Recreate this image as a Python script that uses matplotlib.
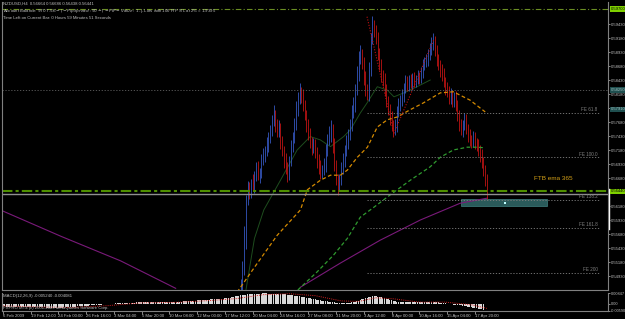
import matplotlib
matplotlib.use("Agg")
import matplotlib.pyplot as plt

W, H = 625, 319

# ---------------- data ----------------
symbol_header = "NZDUSD,H4  0.56664 0.56686 0.56438 0.56441"
account_line = "Account Balance: $9707.56 -|- Pip Spread: 90 -|- PIP-Value: $1 -|- Lots with 100 PIP S/L at 2% = 1.9395"
time_line = "Time Left on Current Bar: 0 Hours 59 Minutes 51 Seconds"

first_bar_index = 137
first_open = 0.5450
closes = [0.5477, 0.5504, 0.5557, 0.5629, 0.5651, 0.5643, 0.5661, 0.5654, 0.5672, 0.5686,
          0.5673, 0.5679, 0.5700, 0.5709, 0.5718, 0.5727, 0.5740, 0.5754, 0.5768, 0.5781,
          0.5763, 0.5751, 0.5757, 0.5732, 0.5718, 0.5700, 0.5686, 0.5673, 0.5700, 0.5722,
          0.5740, 0.5763, 0.5790, 0.5811, 0.5822, 0.5815, 0.5798, 0.5781, 0.5763, 0.5745,
          0.5732, 0.5722, 0.5727, 0.5715, 0.5700, 0.5686, 0.5679, 0.5682, 0.5691, 0.5718,
          0.5736, 0.5745, 0.5754, 0.5727, 0.5691, 0.5668, 0.5656, 0.5665, 0.5686, 0.5700,
          0.5718, 0.5732, 0.5745, 0.5763, 0.5786, 0.5798, 0.5825, 0.5852, 0.5882, 0.5888,
          0.5875, 0.5847, 0.5825, 0.5816, 0.5861, 0.5915, 0.5941, 0.5932, 0.5918, 0.5888,
          0.5870, 0.5852, 0.5843, 0.5825, 0.5807, 0.5790, 0.5775, 0.5763, 0.5754, 0.5763,
          0.5786, 0.5798, 0.5807, 0.5816, 0.5829, 0.5840, 0.5834, 0.5843, 0.5836, 0.5847,
          0.5840, 0.5843, 0.5850, 0.5847, 0.5857, 0.5868, 0.5875, 0.5879, 0.5888, 0.5897,
          0.5906, 0.5911, 0.5897, 0.5879, 0.5870, 0.5861, 0.5852, 0.5840, 0.5829, 0.5822,
          0.5811, 0.5816, 0.5807, 0.5811, 0.5798, 0.5781, 0.5763, 0.5754, 0.5763, 0.5772,
          0.5757, 0.5745, 0.5736, 0.5732, 0.5740, 0.5732, 0.5727, 0.5718, 0.5709, 0.5698,
          0.5682, 0.5668, 0.5643]
wick_up = [0.0010, 0.0015, 0.0025, 0.0008, 0.0012, 0.0010, 0.0006, 0.0014, 0.0009, 0.0011,
           0.0013, 0.0007, 0.0010, 0.0012, 0.0008, 0.0015, 0.0010, 0.0009, 0.0012, 0.0018,
           0.0008, 0.0010, 0.0014, 0.0009, 0.0011, 0.0007, 0.0012, 0.0010, 0.0008, 0.0013,
           0.0010, 0.0012, 0.0015, 0.0011, 0.0016, 0.0009, 0.0012, 0.0010, 0.0008, 0.0011,
           0.0013, 0.0009, 0.0012, 0.0010, 0.0008, 0.0011, 0.0014, 0.0009, 0.0012, 0.0010,
           0.0011, 0.0015, 0.0018, 0.0010, 0.0012, 0.0009, 0.0008, 0.0011, 0.0010, 0.0012,
           0.0009, 0.0013, 0.0010, 0.0011, 0.0012, 0.0014, 0.0010, 0.0016, 0.0012, 0.0018,
           0.0011, 0.0009, 0.0012, 0.0010, 0.0014, 0.0012, 0.0016, 0.0010, 0.0009, 0.0011,
           0.0012, 0.0010, 0.0009, 0.0013, 0.0011, 0.0008, 0.0010, 0.0012, 0.0009, 0.0011,
           0.0010, 0.0012, 0.0009, 0.0011, 0.0008, 0.0012, 0.0010, 0.0009, 0.0011, 0.0008,
           0.0010, 0.0009, 0.0011, 0.0008, 0.0010, 0.0012, 0.0009, 0.0011, 0.0010, 0.0012,
           0.0014, 0.0016, 0.0010, 0.0009, 0.0011, 0.0008, 0.0010, 0.0012, 0.0009, 0.0011,
           0.0010, 0.0012, 0.0009, 0.0011, 0.0013, 0.0010, 0.0008, 0.0011, 0.0009, 0.0012,
           0.0010, 0.0008, 0.0011, 0.0009, 0.0012, 0.0010, 0.0008, 0.0011, 0.0009, 0.0010,
           0.0008, 0.0009, 0.0007]
wick_dn = [0.0020, 0.0012, 0.0010, 0.0015, 0.0009, 0.0013, 0.0011, 0.0008, 0.0012, 0.0010,
           0.0009, 0.0014, 0.0011, 0.0008, 0.0012, 0.0010, 0.0013, 0.0009, 0.0011, 0.0008,
           0.0012, 0.0010, 0.0009, 0.0013, 0.0011, 0.0014, 0.0010, 0.0012, 0.0009, 0.0011,
           0.0008, 0.0010, 0.0009, 0.0012, 0.0010, 0.0013, 0.0011, 0.0009, 0.0012, 0.0010,
           0.0011, 0.0013, 0.0009, 0.0012, 0.0014, 0.0010, 0.0012, 0.0011, 0.0009, 0.0013,
           0.0010, 0.0009, 0.0012, 0.0014, 0.0011, 0.0013, 0.0018, 0.0010, 0.0009, 0.0011,
           0.0012, 0.0010, 0.0013, 0.0009, 0.0011, 0.0010, 0.0012, 0.0009, 0.0011, 0.0010,
           0.0012, 0.0013, 0.0010, 0.0009, 0.0011, 0.0010, 0.0008, 0.0012, 0.0011, 0.0010,
           0.0009, 0.0012, 0.0010, 0.0011, 0.0013, 0.0010, 0.0012, 0.0011, 0.0013, 0.0010,
           0.0012, 0.0009, 0.0011, 0.0010, 0.0012, 0.0009, 0.0011, 0.0010, 0.0008, 0.0011,
           0.0009, 0.0010, 0.0008, 0.0011, 0.0009, 0.0010, 0.0008, 0.0009, 0.0011, 0.0010,
           0.0009, 0.0010, 0.0012, 0.0011, 0.0010, 0.0012, 0.0011, 0.0010, 0.0012, 0.0009,
           0.0011, 0.0010, 0.0012, 0.0013, 0.0010, 0.0012, 0.0011, 0.0009, 0.0012, 0.0010,
           0.0011, 0.0012, 0.0010, 0.0011, 0.0009, 0.0012, 0.0010, 0.0011, 0.0013, 0.0012,
           0.0010, 0.0014, 0.0012]

# moving averages (bar index, price)
ema_orange_idx = [135.0, 146.7, 158.2, 171.5, 175.5, 183.0, 188.8, 194.5, 198.5, 204.3, 210.1, 215.8, 221.6, 227.3, 234.8, 242.3, 252.1, 259.6, 269.3, 278.0]
ema_orange_val = [0.5464, 0.5516, 0.5566, 0.5611, 0.5647, 0.5664, 0.5673, 0.5673, 0.5682, 0.5705, 0.5723, 0.5759, 0.5772, 0.5777, 0.5790, 0.5802, 0.5820, 0.5822, 0.5807, 0.5786]
ema_green_idx = [170.0, 181.0, 190.5, 198.5, 206.0, 213.5, 223.3, 234.8, 246.3, 252.1, 259.6, 267.6, 273.4, 277.4]
ema_green_val = [0.5468, 0.5500, 0.5530, 0.5560, 0.5598, 0.5615, 0.5638, 0.5664, 0.5688, 0.5705, 0.5718, 0.5723, 0.5723, 0.5722]
ema_purple_left_idx = [0.0, 33.4, 67.9, 99.6]
ema_purple_left_val = [0.5609, 0.5564, 0.5520, 0.5471]
ema_purple_right_idx = [171.5, 194.5, 217.5, 240.6, 263.6, 279.1]
ema_purple_right_val = [0.5473, 0.5516, 0.5557, 0.5593, 0.5623, 0.5632]
ema_fast_idx = [140.0, 145.0, 150.4, 160.0, 169.6, 177.2, 183.0, 188.8, 196.4, 200.3, 206.0, 209.9, 215.8, 221.6, 225.4, 231.1, 238.7, 246.3]
ema_fast_val = [0.5466, 0.5560, 0.5611, 0.5664, 0.5718, 0.5742, 0.5736, 0.5724, 0.5742, 0.5754, 0.5784, 0.5802, 0.5831, 0.5825, 0.5813, 0.5820, 0.5831, 0.5843]
zigzag_idx = [209.9, 225.4, 248.4]
zigzag_val = [0.5956, 0.5748, 0.5915]

top_line_price = 0.5970
ftb_line_price = 0.5644
bid_line_price = 0.5640
level_line_price = 0.5825
fe_levels = [0.5784, 0.5705, 0.5629, 0.5579, 0.5499]
fe_names = ["FE 61.8", "FE 100.0", "FE 138.2", "FE 161.8", "FE 200"]
fe_start_idx = 210.1
teal_labels = [0.5825, 0.5791]
box_idx = (264.2, 313.6)
box_price = (0.5618, 0.5631)
box_point = (289.5, 0.5624)
ftb_text_idx = 306.0
ftb_text_price = 0.5668

price_ticks = [0.59430, 0.59180, 0.58930, 0.58680, 0.58430, 0.58180, 0.57930, 0.57680,
               0.57430, 0.57180, 0.56930, 0.56680, 0.56430, 0.56180, 0.55930, 0.55680,
               0.55430, 0.55180, 0.54930]

date_labels = ["6 Feb 2009", "19 Feb 12:00", "24 Feb 00:00", "26 Feb 16:00", "3 Mar 04:00",
               "5 Mar 20:00", "10 Mar 08:00", "12 Mar 00:00", "17 Mar 12:00", "20 Mar 04:00",
               "24 Mar 16:00", "27 Mar 08:00", "31 Mar 20:00", "3 Apr 12:00", "8 Apr 00:00",
               "10 Apr 16:00", "15 Apr 04:00", "17 Apr 20:00"]
date_label_step = 16

macd_hist = [
 -0.0022,-0.0024,-0.0026,-0.0027,-0.0028,-0.0029,-0.0030,-0.0030,-0.0031,-0.0031,
 -0.0030,-0.0030,-0.0029,-0.0029,-0.0028,-0.0028,-0.0027,-0.0027,-0.0028,-0.0028,
 -0.0029,-0.0030,-0.0030,-0.0031,-0.0032,-0.0033,-0.0033,-0.0034,-0.0034,-0.0035,
 -0.0035,-0.0035,-0.0034,-0.0034,-0.0033,-0.0032,-0.0031,-0.0030,-0.0029,-0.0028,
 -0.0027,-0.0026,-0.0025,-0.0024,-0.0023,-0.0022,-0.0020,-0.0019,-0.0018,-0.0017,
 -0.0016,-0.0015,-0.0014,-0.0013,-0.0012,-0.0011,-0.0010,-0.0008,-0.0006,-0.0005,
 -0.0004,-0.0003,-0.0002,-0.0001, 0.0000, 0.0001, 0.0002, 0.0003, 0.0004, 0.0005,
  0.0005, 0.0006, 0.0006, 0.0007, 0.0007, 0.0008, 0.0008, 0.0009, 0.0010, 0.0011,
  0.0011, 0.0012, 0.0012, 0.0013, 0.0013, 0.0013, 0.0012, 0.0012, 0.0011, 0.0010,
  0.0010, 0.0009, 0.0009, 0.0009, 0.0010, 0.0010, 0.0011, 0.0011, 0.0012, 0.0013,
  0.0014, 0.0015, 0.0016, 0.0017, 0.0018, 0.0019, 0.0020, 0.0021, 0.0022, 0.0023,
  0.0024, 0.0025, 0.0026, 0.0027, 0.0028, 0.0029, 0.0030, 0.0031, 0.0032, 0.0033,
  0.0034, 0.0035, 0.0036, 0.0037, 0.0038, 0.0039, 0.0040, 0.0042, 0.0044, 0.0046,
  0.0048, 0.0050, 0.0053, 0.0056, 0.0059, 0.0062, 0.0065, 0.0068, 0.0070, 0.0072,
  0.0074, 0.0076, 0.0077, 0.0078, 0.0079, 0.0080, 0.0081, 0.0082, 0.0083, 0.0083,
  0.0084, 0.0084, 0.0084, 0.0083, 0.0083, 0.0082, 0.0082, 0.0081, 0.0080, 0.0080,
  0.0079, 0.0078, 0.0077, 0.0076, 0.0075, 0.0073, 0.0071, 0.0069, 0.0067, 0.0065,
  0.0063, 0.0061, 0.0058, 0.0055, 0.0052, 0.0049, 0.0046, 0.0043, 0.0040, 0.0037,
  0.0034, 0.0031, 0.0028, 0.0026, 0.0024, 0.0022, 0.0020, 0.0018, 0.0016, 0.0014,
  0.0012, 0.0010, 0.0008, 0.0006, 0.0005, 0.0004, 0.0003, 0.0003, 0.0004, 0.0005,
  0.0007, 0.0010, 0.0013, 0.0017, 0.0021, 0.0025, 0.0030, 0.0035, 0.0040, 0.0045,
  0.0050, 0.0055, 0.0058, 0.0061, 0.0062, 0.0061, 0.0058, 0.0055, 0.0051, 0.0047,
  0.0043, 0.0039, 0.0035, 0.0031, 0.0027, 0.0023, 0.0020, 0.0017, 0.0015, 0.0013,
  0.0012, 0.0011, 0.0010, 0.0010, 0.0009, 0.0009, 0.0010, 0.0010, 0.0011, 0.0011,
  0.0012, 0.0012, 0.0013, 0.0014, 0.0015, 0.0015, 0.0016, 0.0016, 0.0015, 0.0014,
  0.0012, 0.0010, 0.0008, 0.0006, 0.0004, 0.0002, 0.0000,-0.0002,-0.0004,-0.0006,
 -0.0008,-0.0010,-0.0012,-0.0014,-0.0016,-0.0018,-0.0020,-0.0022,-0.0025,-0.0028,
 -0.0031,-0.0034,-0.0037,-0.0040,-0.0043,-0.0046,-0.0049,-0.0052]
macd_signal_idx = [0, 20, 40, 60, 80, 100, 120, 135, 150, 165, 180, 195, 205, 215, 225, 240, 255, 270, 279]
macd_signal_val = [-0.0020, -0.0028, -0.0032, -0.0018, 0.0006, 0.0010, 0.0026, 0.0042, 0.0074, 0.0082, 0.0066, 0.0022, 0.0018, 0.0048, 0.0040, 0.0012, 0.0012, -0.0010, -0.0040]
macd_title = "MACD(12,26,9) -0.005240 -0.004081"
copyright_text = "FXPRO MT4 (c) 2001-2009 MetaQuotes Software Corp."

# ---------------- layout ----------------
plt.rcParams['font.family'] = ['Liberation Sans', 'DejaVu Sans']
BG = "#000000"
FG = "#c0c0c0"
AXCOL = "#808080"
YTXT = 3.0
XTXT = 3.1

fig = plt.figure(figsize=(W / 100, H / 100), dpi=100, facecolor=BG)


def fx(px):
    return px / W


def fy(py):
    return 1 - py / H


x_right_idx = (608 - 2) * 16 / 27.8
ax = fig.add_axes([fx(2), fy(290), fx(608) - fx(2), fy(2) - fy(290)], facecolor=BG)
axm = fig.add_axes([fx(2), fy(311), fx(608) - fx(2), fy(293) - fy(311)], facecolor=BG)

for a in (ax, axm):
    a.set_xlim(-0.5, x_right_idx)
    for s in a.spines.values():
        s.set_color(AXCOL)
        s.set_linewidth(0.8)
    a.spines['top'].set_visible(False)

YMIN, YMAX = 0.54680, 0.59823
ax.set_ylim(YMIN, YMAX)
axm.set_ylim(-0.0062, 0.0088)

# moving averages (behind bars)
ax.plot(ema_purple_left_idx, ema_purple_left_val, color="#7a1a7a", linewidth=0.8)
ax.plot(ema_purple_right_idx, ema_purple_right_val, color="#7a1a7a", linewidth=0.8)
ax.plot(ema_fast_idx, ema_fast_val, color="#1e4d1e", linewidth=0.7)

# price bars
opens = [first_open] + closes[:-1]
for k, (o, c) in enumerate(zip(opens, closes)):
    i = first_bar_index + k
    col = "#3a5fd0" if c >= o else "#d01515"
    ax.vlines(i, min(o, c) - wick_dn[k], max(o, c) + wick_up[k], color=col, linewidth=0.55)

ax.plot(ema_orange_idx, ema_orange_val, color="#d48a00", linewidth=0.9, dashes=(3, 2))
ax.plot(ema_green_idx, ema_green_val, color="#2f9a2f", linewidth=0.9, dashes=(3, 2))
ax.plot(zigzag_idx, zigzag_val, color="#c01010", linewidth=0.8, linestyle=(0, (1, 1.5)))

# horizontal lines
ax.axhline(top_line_price, color="#6b8e23", linewidth=0.8, dashes=(5, 2, 1, 2))
ax.axhline(level_line_price, color="#606060", linewidth=0.6, linestyle=(0, (1.5, 2)))
ax.axhline(ftb_line_price, color="#4f8f00", linewidth=1.5, dashes=(5, 1.5, 1.5, 1.5))
ax.axhline(bid_line_price, color="#909090", linewidth=1.0)
for lvl, name in zip(fe_levels, fe_names):
    ax.hlines(lvl, fe_start_idx, x_right_idx - 5, color="#808080", linewidth=0.6, linestyle=(0, (1.5, 2)))
    ax.text(x_right_idx - 6, lvl + 0.0001, name, color="#808080", fontsize=3.3, ha='right', va='bottom')

ax.add_patch(plt.Rectangle((box_idx[0], box_price[0]), box_idx[1] - box_idx[0],
                           box_price[1] - box_price[0], facecolor="#2a5a5a", edgecolor="#3f7f7f", linewidth=0.5))
ax.plot([box_point[0]], [box_point[1]], marker='s', markersize=1.6, color="#c0ffff", markeredgewidth=0)

ax.text(ftb_text_idx, ftb_text_price, "FTB ema 365", color="#d4a017", fontsize=4.6, ha='left', va='center')

# right price axis
ax.yaxis.tick_right()
ax.set_yticks(price_ticks)
ax.set_yticklabels([f"{p:.5f}" for p in price_ticks])
ax.tick_params(axis='y', colors=FG, labelsize=YTXT, length=1.5, width=0.5, pad=0.8)
ax.tick_params(axis='x', bottom=False, labelbottom=False)


def yfrac(price):
    return (price - YMIN) / (YMAX - YMIN)


for price, bg, fc in [(top_line_price, "#7fd000", "#000000"), (ftb_line_price, "#7fd000", "#000000"),
                      (teal_labels[0], "#1f4f4f", "#a0c0c0"), (teal_labels[1], "#1f4f4f", "#a0c0c0")]:
    ax.text(1.0045, yfrac(price), f"{price:.5f}", transform=ax.transAxes,
            fontsize=YTXT, color=fc, ha='left', va='center',
            bbox=dict(boxstyle='square,pad=0.15', facecolor=bg, edgecolor='none'))

# white scale marker on the right axis
ax.plot([1.002, 1.002], [yfrac(0.5649), yfrac(0.5577)], transform=ax.transAxes,
        color="#ffffff", linewidth=1.0, clip_on=False)

# MACD panel
axm.bar(range(len(macd_hist)), macd_hist, width=0.75, color="#d8d8d8", linewidth=0)
axm.plot(macd_signal_idx, macd_signal_val, color="#d02020", linewidth=0.7, linestyle=(0, (1, 1.2)))
axm.yaxis.tick_right()
axm.set_yticks([0.00847, 0.0, -0.00590])
axm.set_yticklabels(["0.00847", "0.00", "-0.00590"])
axm.tick_params(axis='y', colors=FG, labelsize=2.8, length=1.5, width=0.5, pad=0.6)
axm.set_xticks([k * date_label_step for k in range(len(date_labels))])
axm.set_xticklabels(date_labels, ha='left')
axm.tick_params(axis='x', colors=FG, labelsize=XTXT, length=2, width=0.5, pad=0.5)
axm.text(0.002, 0.97, macd_title, transform=axm.transAxes, color=FG, fontsize=XTXT, va='top')
axm.text(0.002, 0.03, copyright_text, transform=axm.transAxes, color=FG, fontsize=XTXT, va='bottom')

# header
fig.text(fx(3), fy(4), symbol_header, color=FG, fontsize=XTXT, va='center')
fig.text(fx(3), fy(11), account_line, color=FG, fontsize=XTXT, va='center')
fig.text(fx(3), fy(18), time_line, color=FG, fontsize=XTXT, va='center')

fig.savefig("out.png", dpi=100, facecolor=BG)
